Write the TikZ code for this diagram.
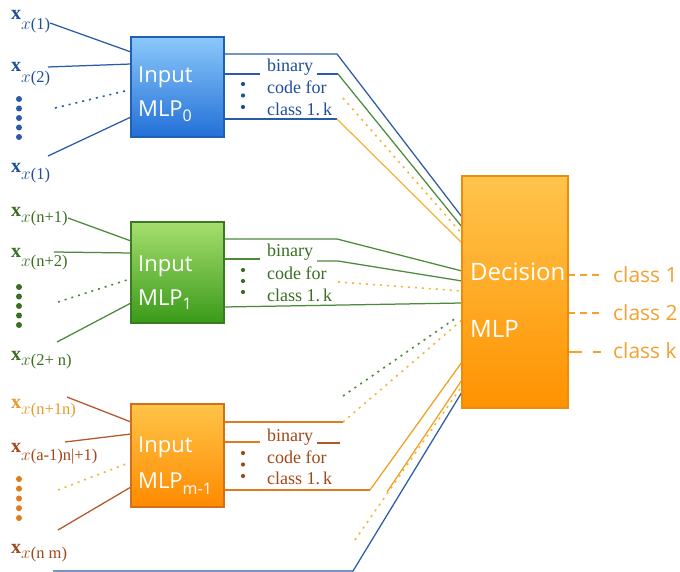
\documentclass[tikz,border=0pt]{standalone}
\usepackage{fontspec}
\newfontfamily\sansf{Open Sans}
\newfontfamily\seriff{Liberation Serif}
\definecolor{cblue}{HTML}{2B5BA8}
\definecolor{tblue}{HTML}{1F4F9A}
\definecolor{cgreen}{HTML}{4A8A3A}
\definecolor{tgreen}{HTML}{3B6E22}
\definecolor{cyel}{HTML}{F2B630}
\definecolor{corange}{HTML}{F0A020}
\definecolor{cbrown}{HTML}{E07B1F}
\definecolor{cred}{HTML}{B5552A}
\definecolor{tbrown}{HTML}{A04818}
\definecolor{torange}{HTML}{E59A2A}
\definecolor{cclass}{HTML}{F5A030}
\definecolor{bB}{HTML}{2060B0}\definecolor{bT}{HTML}{8CC8FA}\definecolor{bD}{HTML}{2270D8}
\definecolor{gB}{HTML}{3A7A20}\definecolor{gT}{HTML}{A6DE6E}\definecolor{gD}{HTML}{3A9A1A}
\definecolor{oB}{HTML}{D0701A}\definecolor{oT}{HTML}{FFC448}\definecolor{oD}{HTML}{FF8A00}
\definecolor{dB}{HTML}{EC8C0A}\definecolor{dT}{HTML}{FFC44C}\definecolor{dD}{HTML}{FF9200}
\newcommand\xsub[2]{\textbf{x}\raisebox{-#1pt}{\fontsize{16.5}{16}\selectfont$x$(#2)}}
\newcommand\mlpsub[2]{MLP\raisebox{-#1pt}{\fontsize{16}{16}\selectfont #2}}
\tikzset{
  ln/.style={line width=1.25pt},
  dotl/.style={line width=1.6pt, dash pattern=on 2pt off 5pt},
  blk/.style={draw, line width=1.2pt, minimum width=93pt, minimum height=100pt, inner sep=0pt},
  intext/.style={font=\sansf\fontsize{22}{22}\selectfont, text=white, anchor=base west, inner sep=0pt},
  codet/.style={font=\seriff\fontsize{18}{18}\selectfont, anchor=base west, inner sep=0pt},
  xlab/.style={font=\seriff\fontsize{20}{20}\selectfont, anchor=base west, inner sep=0pt},
  bigdot/.style={circle, inner sep=0pt, minimum size=6pt},
  smalldot/.style={circle, inner sep=0pt, minimum size=4.2pt},
  classt/.style={font=\sansf\fontsize{21}{21}\selectfont, text=cclass, anchor=base west, inner sep=0pt},
}
\begin{document}
\begin{tikzpicture}[x=1pt,y=-1pt]
\useasboundingbox[fill=white] (0,0) rectangle (680,572);

% ---------- coordinates ----------
\coordinate (t1s) at (50,23);  \coordinate (t1e) at (131,52);
\coordinate (t2s) at (48,67);  \coordinate (t2e) at (131,64);
\coordinate (t3s) at (55,108); \coordinate (t3e) at (125,91);
\coordinate (t4s) at (48,156); \coordinate (t4e) at (131,117);
\coordinate (m1s) at (68,218); \coordinate (m1e) at (131,241);
\coordinate (m2s) at (54,252); \coordinate (m2e) at (131,253);
\coordinate (m3s) at (58,302); \coordinate (m3e) at (130,279);
\coordinate (m4s) at (57,342); \coordinate (m4e) at (131,303);
\coordinate (n1s) at (67,397); \coordinate (n1e) at (131,422);
\coordinate (n2s) at (65,442); \coordinate (n2e) at (131,434);
\coordinate (n3s) at (58,490); \coordinate (n3e) at (131,462);
\coordinate (n4s) at (58,530); \coordinate (n4e) at (131,487);
\coordinate (o1a) at (224,54);  \coordinate (o1b) at (337,54);  \coordinate (d01) at (462,217);
\coordinate (o2a) at (224,74);  \coordinate (o2b) at (260,74);
\coordinate (o2c) at (317,74);  \coordinate (o2d) at (338,74);  \coordinate (d02) at (462,227);
\coordinate (o3a) at (224,119); \coordinate (o3b) at (337,119); \coordinate (d03) at (462,243);
\coordinate (o4a) at (343,98);  \coordinate (d04) at (462,234);
\coordinate (p1a) at (224,239); \coordinate (p1b) at (337,239); \coordinate (d11) at (462,271);
\coordinate (p2a) at (224,259); \coordinate (p2b) at (260,259);
\coordinate (p2c) at (317,261); \coordinate (p2d) at (338,261); \coordinate (d12) at (462,281);
\coordinate (p4a) at (338,282); \coordinate (d14) at (462,291);
\coordinate (p3a) at (224,307); \coordinate (d13) at (462,303);
\coordinate (g5a) at (343,396); \coordinate (g5b) at (456,318);
\coordinate (q1a) at (224,422); \coordinate (q1b) at (343,422); \coordinate (d21) at (462,320);
\coordinate (q2a) at (224,442); \coordinate (q2b) at (260,442);
\coordinate (q2c) at (317,443); \coordinate (q2d) at (340,443);
\coordinate (q3a) at (224,490); \coordinate (q3b) at (370,490); \coordinate (d23) at (462,362);
\coordinate (r1)  at (387,492); \coordinate (d24) at (462,380);
\coordinate (r2)  at (355,540); \coordinate (d25) at (462,386);
\coordinate (b1)  at (53,571);  \coordinate (b2)  at (353,571); \coordinate (d26) at (462,392);
\coordinate (c1a) at (568,275); \coordinate (c1b) at (602,275);
\coordinate (c2a) at (568,313); \coordinate (c2b) at (602,313);
\coordinate (c3a) at (568,352); \coordinate (c3b) at (602,352);

% ---------- input connectors ----------
\draw[ln, cblue] (t1s) -- (t1e);
\draw[ln, cblue] (t2s) -- (t2e);
\draw[dotl, cblue] (t3s) -- (t3e);
\draw[ln, cblue] (t4s) -- (t4e);
\draw[ln, cgreen] (m1s) -- (m1e);
\draw[ln, cgreen] (m2s) -- (m2e);
\draw[dotl, cgreen] (m3s) -- (m3e);
\draw[ln, cgreen] (m4s) -- (m4e);
\draw[ln, cred] (n1s) -- (n1e);
\draw[ln, cred] (n2s) -- (n2e);
\draw[dotl, cyel] (n3s) -- (n3e);
\draw[ln, cred] (n4s) -- (n4e);

% ---------- output connectors ----------
\draw[ln, cblue] (o1a) -- (o1b) -- (d01);
\draw[ln, cblue] (o2a) -- (o2b);
\draw[ln, cblue] (o2c) -- (o2d);
\draw[ln, cgreen] (o2d) -- (d02);
\draw[ln, cblue] (o3a) -- (o3b);
\draw[ln, cyel] (o3b) -- (d03);
\draw[dotl, cyel] (o4a) -- (d04);

\draw[ln, cgreen] (p1a) -- (p1b) -- (d11);
\draw[ln, cgreen] (p2a) -- (p2b);
\draw[ln, cgreen] (p2c) -- (p2d) -- (d12);
\draw[dotl, cyel] (p4a) -- (d14);
\draw[ln, cgreen] (p3a) -- (d13);
\draw[dotl, cgreen] (g5a) -- (g5b);

\draw[ln, cbrown] (q1a) -- (q1b);
\draw[dotl, cyel] (q1b) -- (d21);
\draw[ln, cbrown] (q2a) -- (q2b);
\draw[ln, cred] (q2c) -- (q2d);
\draw[ln, cbrown] (q3a) -- (q3b);
\draw[ln, corange] (q3b) -- (d23);
\draw[ln, corange] (r1) -- (d24);
\draw[dotl, cyel] (r2) -- (d25);
\draw[ln, cblue] (b1) -- (b2) -- (d26);

\draw[ln, cclass, dash pattern=on 7pt off 5pt] (c1a) -- (c1b);
\draw[ln, cclass, dash pattern=on 7pt off 5pt] (c2a) -- (c2b);
\draw[ln, cclass, dash pattern=on 14pt off 11pt on 8pt off 20pt] (c3a) -- (c3b);

% ---------- blocks ----------
\node[blk, draw=bB, top color=bT, bottom color=bD] (m0) at (177.5,87) {};
\node[blk, draw=gB, top color=gT, bottom color=gD, minimum height=101pt] (m1) at (177.5,272.5) {};
\node[blk, draw=oB, top color=oT, bottom color=oD, minimum height=103pt] (mk) at (177.5,455.5) {};
\node[blk, draw=dB, top color=dT, bottom color=dD, minimum width=106pt, minimum height=232pt] (dec) at (515,292) {};

% ---------- block texts ----------
\node[intext] (m0a) at (138,83) {Input};
\node[intext] (m0b) at (138,117) {\mlpsub{5}{0}};
\node[intext] (m1a) at (138,272) {Input};
\node[intext] (m1b) at (138,305) {\mlpsub{5}{1}};
\node[intext] (mka) at (138,452) {Input};
\node[intext] (mkb) at (138,488) {\mlpsub{6}{m-1}};
\node[intext, font=\sansf\fontsize{24}{24}\selectfont] (deca) at (470,280) {Decision};
\node[intext, font=\sansf\fontsize{24}{24}\selectfont] (decb) at (470,337) {MLP};

% ---------- class labels ----------
\node[classt] (k1) at (613,282) {class 1};
\node[classt] (k2) at (613,320) {class 2};
\node[classt] (k3) at (613,358) {class k};

% ---------- code texts ----------
\node[codet, text=tblue] (b0a) at (267,72) {binary};
\node[codet, text=tblue] (b0b) at (267,94) {code for};
\node[codet, text=tblue] (b0c) at (267,116) {class 1.\,k};
\node[codet, text=tgreen] (b1a) at (267,257) {binary};
\node[codet, text=tgreen] (b1b) at (267,279) {code for};
\node[codet, text=tgreen] (b1c) at (267,301) {class 1.\,k};
\node[codet, text=tbrown] (bka) at (267,441) {binary};
\node[codet, text=tbrown] (bkb) at (267,463) {code for};
\node[codet, text=tbrown] (bkc) at (267,484) {class 1.\,k};

% ---------- small vertical dots ----------
\foreach \y [count=\i] in {84,95.5,107} \node[smalldot, fill=tblue] (sd0\i) at (243,\y) {};
\foreach \y [count=\i] in {270,281,292} \node[smalldot, fill=tgreen] (sd1\i) at (243,\y) {};
\foreach \y [count=\i] in {453,464.5,476} \node[smalldot, fill=tbrown] (sdk\i) at (243,\y) {};

% ---------- big vertical dots ----------
\foreach \y [count=\i] in {99,108.5,118,127.5,137} \node[bigdot, fill=cblue] (bd0\i) at (19,\y) {};
\foreach \y [count=\i] in {287,296.5,306,315.5,325} \node[bigdot, fill=tgreen] (bd1\i) at (19,\y) {};
\foreach \y [count=\i] in {479,488.7,498.5,508.2,518} \node[bigdot, fill=cbrown] (bdk\i) at (19,\y) {};

% ---------- input labels ----------
\node[xlab, text=tblue] (x01) at (11,20) {\xsub{10}{1}};
\node[xlab, text=tblue] (x02) at (11,72) {\xsub{11}{2}};
\node[xlab, text=tblue] (x03) at (11,173) {\xsub{7}{1}};
\node[xlab, text=tgreen] (x11) at (11,217) {\xsub{6}{n+1}};
\node[xlab, text=tgreen] (x12) at (11,258) {\xsub{9}{n+2}};
\node[xlab, text=tgreen] (x13) at (11,360) {\xsub{5}{2+ n}};
\node[xlab, text=torange] (xk1) at (11,408) {\xsub{6}{n+1n}};
\node[xlab, text=tbrown] (xk2) at (11,452) {\xsub{8}{a-1)n|+1}};
\node[xlab, text=tbrown] (xk3) at (11,553) {\xsub{5}{n m}};
\end{tikzpicture}
\end{document}
